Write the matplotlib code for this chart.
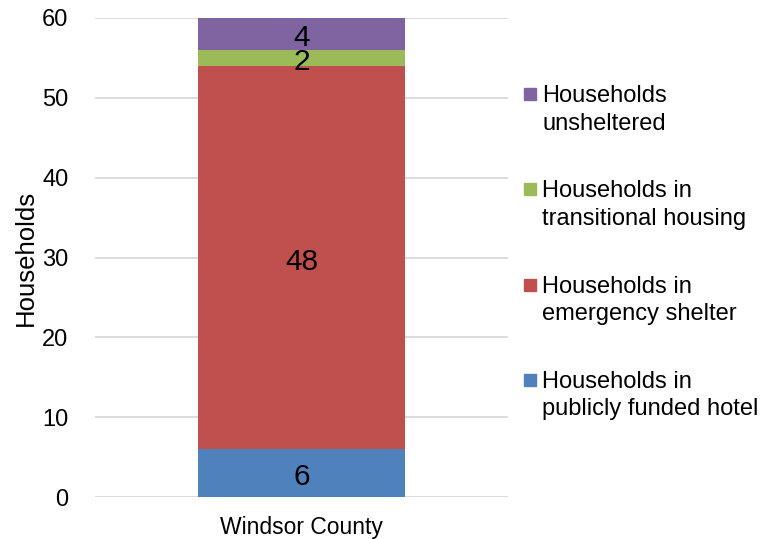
import matplotlib
matplotlib.use("Agg")
import matplotlib.pyplot as plt
from matplotlib.patches import Rectangle

plt.rcParams['font.family'] = ['Liberation Sans', 'DejaVu Sans']

category = ["Windsor County"]
series_names = ["Households in\npublicly funded hotel",
                "Households in\nemergency shelter",
                "Households in\ntransitional housing",
                "Households\nunsheltered"]
series_values = [6, 48, 2, 4]
colors = ["#4F81BD", "#C0504D", "#9BBB59", "#8064A2"]
yticks = [0, 10, 20, 30, 40, 50, 60]

W, H = 775, 539
fig = plt.figure(figsize=(W/100, H/100), dpi=100)
ax = fig.add_axes([95/W, 1-497/H, (508-95)/W, (497-18)/H])

bottom = 0
for name, val, col in zip(series_names, series_values, colors):
    ax.bar([0], [val], bottom=bottom, width=0.5, color=col, label=name, zorder=3)
    ax.annotate(str(val), (0, bottom + val/2), xytext=(0, -3), textcoords='offset points',
                ha='center', va='center', fontsize=21.5, color='black', zorder=4)
    bottom += val

ax.set_xlim(-0.5, 0.5)
ax.set_ylim(0, 60)
ax.set_yticks(yticks)
ax.set_xticks([0])
ax.set_xticklabels(category)
ax.tick_params(axis='both', length=0, labelsize=17)
ax.tick_params(axis='x', pad=14, labelsize=16.5)
ax.tick_params(axis='y', pad=19)
ax.yaxis.grid(True, color='#D9D9D9', linewidth=1.3, zorder=0)
for s in ax.spines.values():
    s.set_visible(False)
ax.set_ylabel("Households", fontsize=18.5, labelpad=3)

# legend (reversed order, top = last series), first line aligned with marker
first_baseline = 102
entry_step = 95.3
line_step = 27.5
for i, (name, col) in enumerate(zip(series_names[::-1], colors[::-1])):
    base = first_baseline + i * entry_step
    fig.patches.append(Rectangle((524/W, 1-(base-2)/H), 12/W, 12/H,
                                 transform=fig.transFigure, color=col))
    for j, line in enumerate(name.split("\n")):
        fig.text(542/W, 1-(base + j*line_step)/H, line, fontsize=17,
                 ha='left', va='baseline', color='black')

fig.savefig("out.png", dpi=100)
